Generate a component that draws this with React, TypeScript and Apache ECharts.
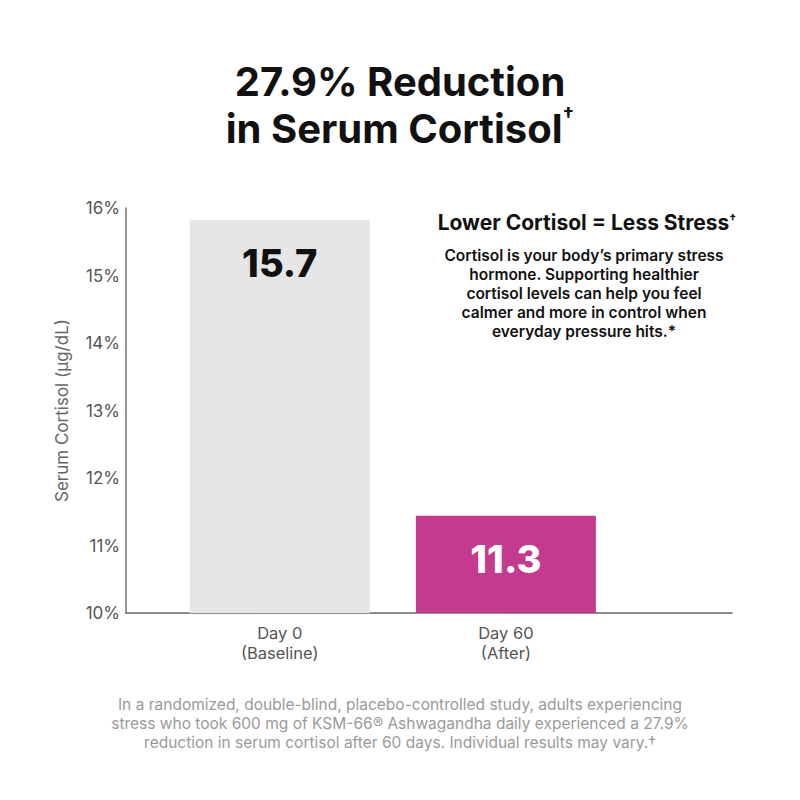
import React, { useEffect, useRef } from "react";
import * as echarts from "echarts";

const categories = ["Day 0\n(Baseline)", "Day 60\n(After)"];
const categoryPositions = [1, 2];
const barHeights = [15.82, 11.44];
const barLabels = ["15.7", "11.3"];
const yTicks = [10, 11, 12, 13, 14, 15, 16];

const FONT = "Inter, 'Open Sans', sans-serif";

export default function App() {
  const ref = useRef<HTMLDivElement>(null);
  useEffect(() => {
    document.body.style.margin = "0";
    if (!ref.current) return;
    const chart = echarts.init(ref.current, null, { renderer: "svg" });
    const colors = ["#e6e6e6", "#c23b8e"];
    const labelColors = ["#111111", "#ffffff"];
    chart.setOption({
      animation: false,
      backgroundColor: "#ffffff",
      grid: { left: 126, right: 68, top: 208, bottom: 187 },
      xAxis: {
        type: "value",
        min: 0.32,
        max: 3,
        splitLine: { show: false },
        axisTick: { show: false },
        axisLine: { show: true, lineStyle: { color: "#666666", width: 1.5 } },
        axisLabel: {
          customValues: categoryPositions,
          formatter: (v: number) => {
            const i = categoryPositions.indexOf(Math.round(v));
            return i >= 0 ? categories[i] : "";
          },
          color: "#555555",
          fontFamily: FONT,
          fontSize: 16.5,
          lineHeight: 20,
          margin: 10,
        },
      },
      yAxis: {
        type: "value",
        min: yTicks[0],
        max: yTicks[yTicks.length - 1],
        interval: 1,
        name: "Serum Cortisol (μg/dL)",
        nameLocation: "middle",
        nameGap: 56,
        nameTextStyle: { color: "#666666", fontFamily: FONT, fontSize: 17 },
        splitLine: { show: false },
        axisTick: { show: false },
        axisLine: { show: true, lineStyle: { color: "#777777", width: 1.5 } },
        axisLabel: {
          formatter: "{value}%",
          color: "#555555",
          fontFamily: FONT,
          fontSize: 17,
          margin: 6,
        },
      },
      series: [
        {
          type: "bar",
          barWidth: 180,
          data: barHeights.map((h, i) => ({
            value: [categoryPositions[i], h],
            itemStyle: { color: colors[i] },
            label: {
              show: true,
              position: "insideTop",
              distance: 24,
              formatter: barLabels[i],
              color: labelColors[i],
              fontFamily: FONT,
              fontWeight: 800,
              fontSize: 38,
            },
          })),
        },
      ],
      graphic: [
        {
          type: "text",
          x: 400,
          y: 58,
          style: {
            text: "27.9% Reduction\nin Serum Cortisol{sup|†}",
            textAlign: "center",
            fill: "#111111",
            font: `700 40px ${FONT}`,
            lineHeight: 47,
            rich: {
              sup: { fontSize: 20, fontWeight: 700, fill: "#111111", verticalAlign: "top", lineHeight: 47, padding: [0, 0, 14, 0], fontFamily: FONT },
            },
          },
        },
        {
          type: "text",
          x: 587,
          y: 212,
          style: {
            text: "Lower Cortisol = Less Stress{sup|†}",
            textAlign: "center",
            fill: "#111111",
            font: `700 21px ${FONT}`,
            rich: { sup: { fontSize: 12, fontWeight: 700, verticalAlign: "top", padding: [0, 0, 9, 0], fontFamily: FONT } },
          },
        },
        {
          type: "text",
          x: 584,
          y: 245.5,
          style: {
            text:
              "Cortisol is your body’s primary stress\nhormone. Supporting healthier\ncortisol levels can help you feel\ncalmer and more in control when\neveryday pressure hits.*",
            textAlign: "center",
            fill: "#111111",
            font: `600 15.5px ${FONT}`,
            lineHeight: 19,
          },
        },
        {
          type: "text",
          x: 400,
          y: 694.5,
          style: {
            text:
              "In a randomized, double-blind, placebo-controlled study, adults experiencing\nstress who took 600 mg of KSM-66® Ashwagandha daily experienced a 27.9%\nreduction in serum cortisol after 60 days. Individual results may vary.†",
            textAlign: "center",
            fill: "#9a9a9a",
            font: `400 15.5px ${FONT}`,
            lineHeight: 19,
          },
        },
      ],
    });
    return () => chart.dispose();
  }, []);
  return <div ref={ref} style={{ width: 800, height: 800 }} />;
}
